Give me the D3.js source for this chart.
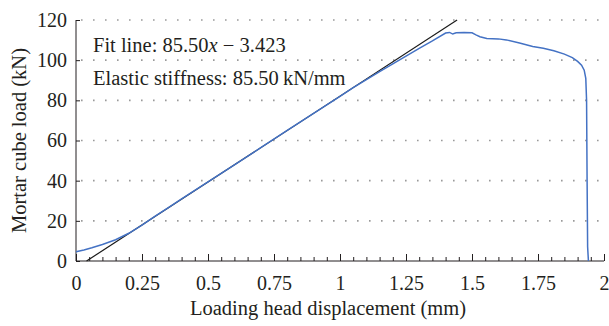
<!DOCTYPE html>
<html lang="en">
<head>
<meta charset="utf-8">
<title>Mortar cube load vs displacement</title>
<script src="https://d3js.org/d3.v7.min.js"></script>
<style>
  body { margin: 0; background: #fff; }
  svg text { font-family: "Liberation Serif", "Times New Roman", serif; fill: #231f20; }
</style>
</head>
<body>
<svg id="chart" width="609" height="326"></svg>
<script>
// measured curve (mm, kN)
var dispX = [0, 0.03, 0.06, 0.1, 0.15, 0.2, 0.25, 0.3, 0.35, 0.4, 0.5, 0.6, 0.7, 0.8, 0.9, 1.0,
  1.05, 1.1, 1.15, 1.2, 1.25, 1.3, 1.35, 1.4, 1.415, 1.427, 1.44, 1.47, 1.5, 1.515, 1.53, 1.556,
  1.6, 1.63, 1.68, 1.73, 1.77, 1.81, 1.85, 1.88, 1.9, 1.915, 1.925, 1.931, 1.934, 1.936, 1.938, 1.941];
var loadY = [4.6, 5.5, 6.6, 8.2, 10.6, 13.8, 17.9, 22.3, 26.6, 30.9, 39.4, 47.9, 56.4, 65.0, 73.5, 82.0,
  86.3, 90.3, 94.3, 98.2, 102.0, 105.9, 109.6, 113.5, 113.8, 113.0, 113.6, 113.8, 113.6, 112.6, 111.7, 110.8,
  110.6, 110.1, 108.5, 106.8, 105.9, 104.7, 103.0, 101.3, 99.4, 97.5, 95.0, 91.0, 80, 40, 7, 0];

// fit line end points (85.50x - 3.423)
var fitX = [0.04, 1.4435];
var fitY = [0, 120];

var xTicks = [0, 0.25, 0.5, 0.75, 1, 1.25, 1.5, 1.75, 2];
var xTickLabels = ["0", "0.25", "0.5", "0.75", "1", "1.25", "1.5", "1.75", "2"];
var yTicks = [0, 20, 40, 60, 80, 100, 120];
var annotLines = ["Fit line: 85.50", "Elastic stiffness: 85.50\u2009kN/mm"];

var svg = d3.select('#chart');
var padL = 76, padR = 604, padT = 20, padB = 261;

var x = d3.scaleLinear().domain([0, 2]).range([padL, padR]);
var y = d3.scaleLinear().domain([0, 120]).range([padB, padT]);

// dotted grid
svg.append('g')
  .selectAll('line')
  .data(yTicks.filter(function(d) { return d > 0; }))
  .enter().append('line')
  .attr('x1', padL + 5).attr('x2', padR)
  .attr('y1', function(d) { return y(d); })
  .attr('y2', function(d) { return y(d); })
  .attr('stroke', '#9a9a9a')
  .attr('stroke-width', 1.6)
  .attr('stroke-dasharray', '1.6,10.4');

// x axis minor ticks
var minor = d3.range(0, 41).map(function(i) { return i * 0.05; });
svg.append('g')
  .attr('transform', 'translate(0,' + padB + ')')
  .call(d3.axisBottom(x).tickValues(minor).tickSize(-4).tickFormat(''))
  .call(function(g) { g.select('.domain').remove(); })
  .selectAll('line').attr('stroke', '#231f20');

// x axis major
var xAxis = svg.append('g')
  .attr('transform', 'translate(0,' + padB + ')')
  .call(d3.axisBottom(x).tickValues(xTicks).tickSize(-7).tickPadding(15)
    .tickFormat(function(d, i) { return xTickLabels[i]; }));
xAxis.select('.domain').attr('stroke', '#231f20').attr('d', 'M' + padL + ',0H' + padR);
xAxis.selectAll('line').attr('stroke', '#231f20');
xAxis.selectAll('text').attr('font-size', 20).attr('font-family', null).attr('fill', null);

// y axis
var yAxis = svg.append('g')
  .attr('transform', 'translate(' + padL + ',0)')
  .call(d3.axisLeft(y).tickValues(yTicks).tickSize(-4).tickPadding(9));
yAxis.select('.domain').attr('stroke', '#231f20').attr('d', 'M0,' + padT + 'V' + padB);
yAxis.selectAll('line').attr('stroke', '#231f20');
yAxis.selectAll('text').attr('font-size', 20).attr('font-family', null).attr('fill', null);

// fit line
svg.append('line')
  .attr('x1', x(fitX[0])).attr('y1', y(fitY[0]))
  .attr('x2', x(fitX[1])).attr('y2', y(fitY[1]))
  .attr('stroke', '#1a1a1a')
  .attr('stroke-width', 1.2);

// measured curve
var pts = dispX.map(function(d, i) { return [d, loadY[i]]; });
svg.append('path')
  .datum(pts)
  .attr('fill', 'none')
  .attr('stroke', '#4472c4')
  .attr('stroke-width', 1.5)
  .attr('d', d3.line().x(function(d) { return x(d[0]); }).y(function(d) { return y(d[1]); }));

// annotation
var t1 = svg.append('text').attr('x', 93).attr('y', 52).attr('font-size', 20.5);
t1.append('tspan').text(annotLines[0]);
t1.append('tspan').attr('font-style', 'italic').text('x');
t1.append('tspan').text(' \u2212 3.423');
svg.append('text').attr('x', 93).attr('y', 85).attr('font-size', 20.5).text(annotLines[1]);

// axis titles
svg.append('text')
  .attr('x', (padL + padR) / 2 - 12).attr('y', 315)
  .attr('text-anchor', 'middle').attr('font-size', 20.5)
  .text('Loading head displacement (mm)');
svg.append('text')
  .attr('transform', 'translate(26,' + (padT + padB) / 2 + ') rotate(-90)')
  .attr('text-anchor', 'middle').attr('font-size', 20.5)
  .text('Mortar cube load (kN)');
</script>
</body>
</html>
